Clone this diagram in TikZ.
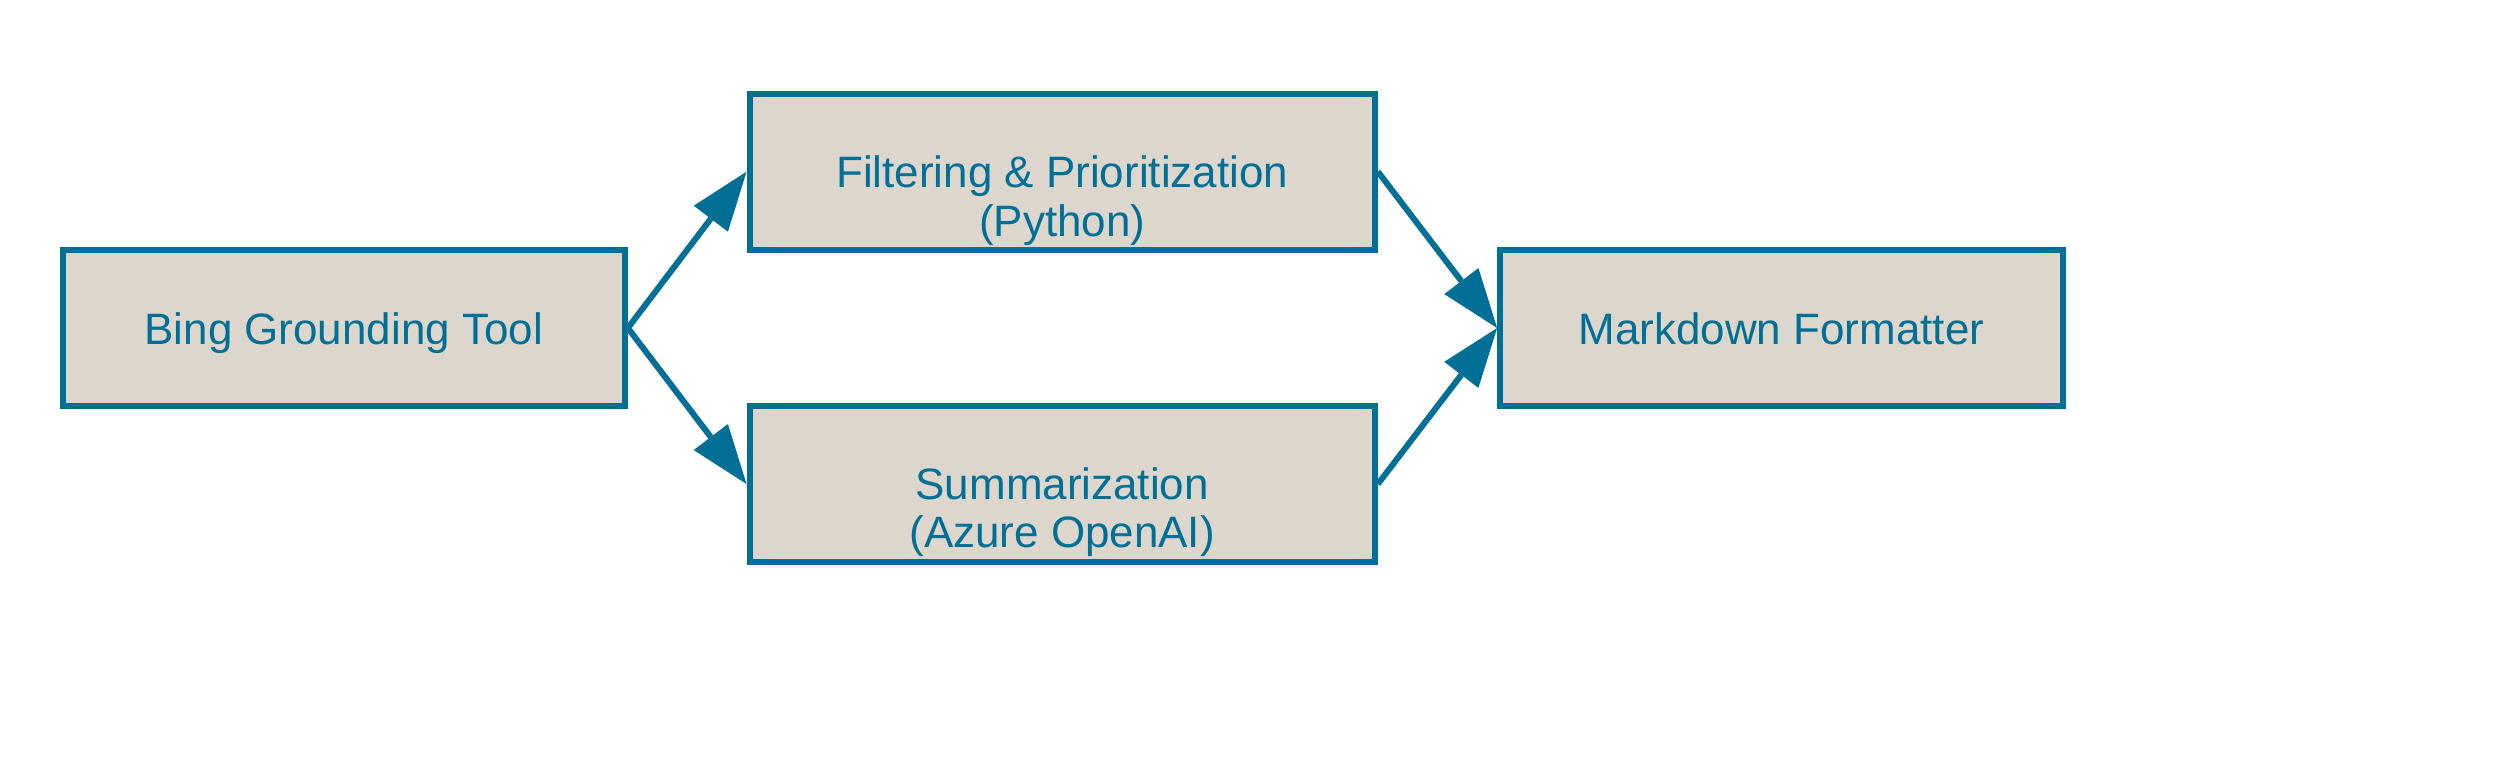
\documentclass[tikz,border=0pt]{standalone}
\usepackage{fontspec}
\setmainfont{Liberation Sans}
\usetikzlibrary{arrows.meta,calc}
\definecolor{boxfill}{RGB}{221,214,205}
\definecolor{boxline}{RGB}{0,111,150}
\tikzset{
  px/.style={x=0.01cm,y=-0.01cm},
  box/.style={draw=boxline, fill=boxfill, line width=0.06cm, inner sep=0pt, rectangle},
  lbl/.style={text=boxline, font=\fontsize{12.5pt}{15pt}\selectfont, anchor=base, inner sep=0pt},
  arr/.style={draw=boxline, line width=0.06cm, -{Triangle[length=0.59cm,width=0.43cm,line width=0pt]}}
}
\begin{document}
\begin{tikzpicture}[px]
\useasboundingbox (0,0) rectangle (2500,781);
\node[box, minimum width=5.62cm, minimum height=1.56cm] (bing) at (343.7,328) {};
\node[box, minimum width=6.25cm, minimum height=1.555cm] (filt) at (1062.2,171.7) {};
\node[box, minimum width=6.25cm, minimum height=1.56cm] (summ) at (1062.2,484) {};
\node[box, minimum width=5.622cm, minimum height=1.56cm] (mark) at (1781.4,328) {};
\node[lbl] (bingT) at (343.7,344) {Bing Grounding Tool};
\node[lbl] (filtT1) at (1062.2,187.7) {Filtering \& Prioritization};
\node[lbl] (filtT2) at (1062.2,236) {(Python)};
\node[lbl] (summT1) at (1062.2,499.5) {Summarization};
\node[lbl] (summT2) at (1062.2,547) {(Azure OpenAI)};
\node[lbl] (markT) at (1781.4,344) {Markdown Formatter};
\draw[arr] (bing.east) -- (filt.west);
\draw[arr] (bing.east) -- (summ.west);
\draw[arr] (filt.east) -- (mark.west);
\draw[arr] (summ.east) -- (mark.west);
\end{tikzpicture}
\end{document}
